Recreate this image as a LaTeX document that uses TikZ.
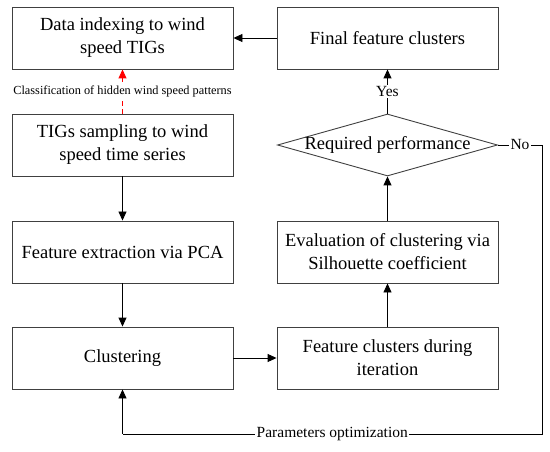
\documentclass[tikz,border=0pt]{standalone}
\usepackage{fontspec}
\setmainfont{Liberation Serif}
\usetikzlibrary{arrows.meta,shapes.geometric}
\begin{document}
\begin{tikzpicture}[x=1pt,y=1pt,
  box/.style={draw=black!75,line width=0.9pt,minimum width=221pt,minimum height=62pt,inner sep=0pt,align=center,font=\fontsize{18.5}{23}\selectfont},
  dia/.style={draw=black!75,line width=0.9pt,shape=diamond,minimum width=220pt,minimum height=62pt,inner sep=0pt,font=\fontsize{18.5}{23}\selectfont},
  conn/.style={line width=0.9pt,-{Triangle[length=9pt,width=8pt]}},
  plain/.style={line width=0.9pt},
  lbl/.style={fill=white,inner sep=1.5pt,font=\fontsize{15.5}{18}\selectfont},
  smalllbl/.style={fill=white,inner sep=1pt,font=\fontsize{12.3}{14}\selectfont}
]
\useasboundingbox (0,0) rectangle (550,-452);
\node[box] (data) at (122.5,-38) {Data indexing to wind\\speed TIGs};
\node[box] (tigs) at (122.5,-145) {TIGs sampling to wind\\speed time series};
\node[box] (pca) at (122.5,-252) {Feature extraction via PCA};
\node[box] (clus) at (122.5,-358) {Clustering};
\node[box] (final) at (387.5,-38) {Final feature clusters};
\node[dia] (perf) at (387.5,-145) {\makebox[0pt]{Required performance}};
\node[box] (eval) at (387.5,-252) {Evaluation of clustering via\\Silhouette coefficient};
\node[box] (feat) at (387.5,-358) {Feature clusters during\\iteration};
\coordinate (c1) at (542,-145);
\coordinate (c2) at (542,-434);
\coordinate (c3) at (122.5,-434);

\draw[conn] (tigs) -- (pca);
\draw[conn] (pca) -- (clus);
\draw[conn] (clus) -- (feat);
\draw[conn] (feat) -- (eval);
\draw[conn] (eval) -- (perf);
\draw[conn] (perf) -- node[lbl] {Yes} (final);
\draw[conn] (final) -- (data);
\draw[conn,red,dashed,dash pattern=on 5pt off 3pt] (tigs) -- node[smalllbl,text=black] {Classification of hidden wind speed patterns} (data);
\draw[plain] (perf.east) -- node[lbl] {No} (c1) -- (c2) -- node[lbl,pos=0.5] {Parameters optimization} (c3);
\draw[conn] (c3) -- (clus.south);
\end{tikzpicture}
\end{document}
